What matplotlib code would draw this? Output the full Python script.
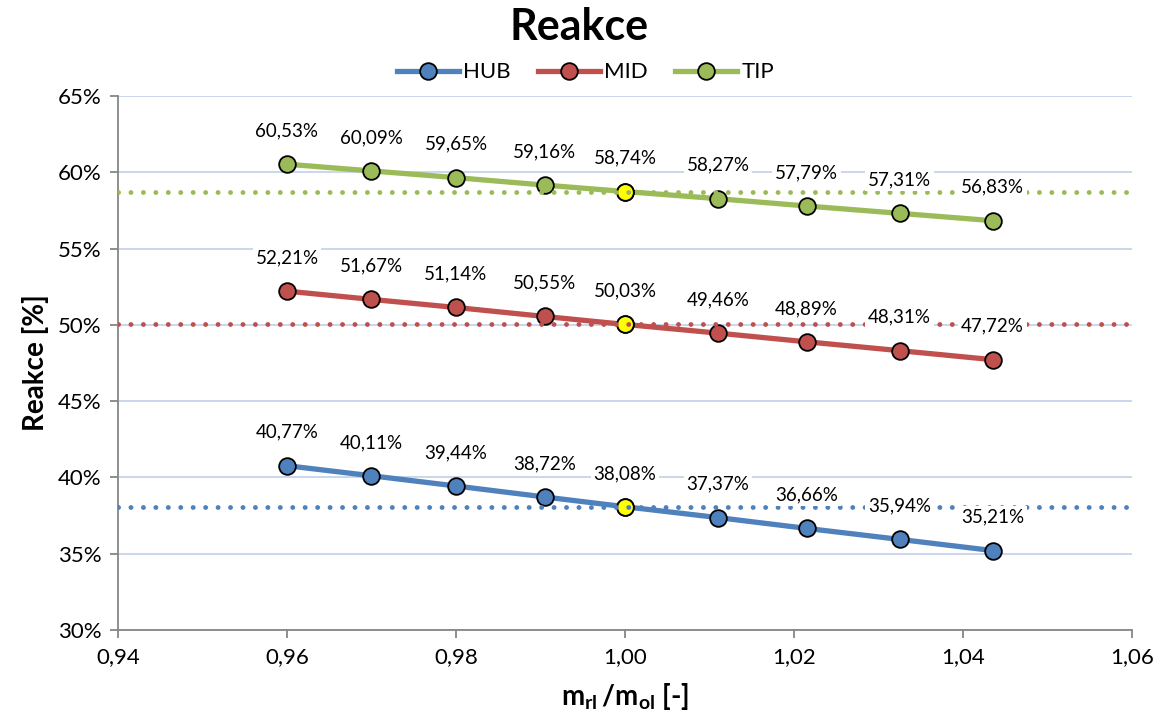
import matplotlib.pyplot as plt
from matplotlib.ticker import FuncFormatter, MultipleLocator

plt.rcParams['font.family'] = ['Lato', 'DejaVu Sans']
plt.rcParams['mathtext.fontset'] = 'custom'
plt.rcParams['mathtext.rm'] = 'Lato'
plt.rcParams['mathtext.bf'] = 'Lato:bold'

# data
ratio = [0.960, 0.970, 0.980, 0.9905, 1.000, 1.011, 1.0215, 1.0325, 1.0435]
hub = [40.77, 40.11, 39.44, 38.72, 38.08, 37.37, 36.66, 35.94, 35.21]
mid = [52.21, 51.67, 51.14, 50.55, 50.03, 49.46, 48.89, 48.31, 47.72]
tip = [60.53, 60.09, 59.65, 59.16, 58.74, 58.27, 57.79, 57.31, 56.83]
names = ["HUB", "MID", "TIP"]
colors = ["#4f81bd", "#c0504d", "#9bbb59"]
design_idx = 4  # point at ratio 1.00, highlighted yellow

fig = plt.figure(figsize=(11.59, 7.24), dpi=100)
ax = fig.add_axes([0.1018, 0.1298, 0.8749, 0.7376])

for name, vals, c in zip(names, [hub, mid, tip], colors):
    ax.plot(ratio, vals, color=c, lw=3.8, marker='o', ms=12,
            mfc=c, mec='black', mew=1.3, label=name, zorder=3)
    # design point
    ax.plot(ratio[design_idx], vals[design_idx], 'o', ms=12, mfc='#ffff00',
            mec='black', mew=1.3, zorder=4)
    # dotted reference line through the design point
    ax.axhline(vals[design_idx], color=c, lw=3.5, ls=(0, (0.01, 2.55)),
               dash_capstyle='round', zorder=5)
    for xv, yv in zip(ratio, vals):
        ax.annotate(f"{yv:.2f}%".replace('.', ','), (xv, yv),
                    xytext=(0, 24), textcoords='offset points',
                    ha='center', va='center', fontsize=13.5,
                    bbox=dict(boxstyle='square,pad=0.15', fc='white', ec='none'),
                    zorder=6)

ax.set_xlim(0.94, 1.06)
ax.set_ylim(30, 65)
ax.xaxis.set_major_locator(MultipleLocator(0.02))
ax.yaxis.set_major_locator(MultipleLocator(5))
ax.xaxis.set_major_formatter(FuncFormatter(lambda v, p: f"{v:.2f}".replace('.', ',')))
ax.yaxis.set_major_formatter(FuncFormatter(lambda v, p: f"{v:.0f}%"))

ax.grid(axis='y', color='#c5d3ea', lw=1.3, zorder=0)
ax.set_axisbelow(True)
for s in ['top', 'right']:
    ax.spines[s].set_visible(False)
for s in ['left', 'bottom']:
    ax.spines[s].set_color('#868686')
    ax.spines[s].set_linewidth(1.3)
ax.tick_params(axis='both', colors='#868686', length=6, width=1.3,
               labelsize=16, labelcolor='black', pad=6)

ax.set_ylabel("Reakce [%]", fontsize=20, fontweight='bold', labelpad=6)
ax.set_xlabel(r"$\mathbf{m_{rl}\,/m_{ol}}$ [-]", fontsize=20,
              fontweight='bold', labelpad=10)
fig.suptitle("Reakce", fontsize=31, fontweight='bold', y=0.99)

fig.legend(loc='center', bbox_to_anchor=(0.505, 0.9), ncol=3, frameon=False,
           fontsize=16, handlelength=2.8, columnspacing=1.2, handletextpad=0.2)

fig.savefig("out.png", dpi=100)
